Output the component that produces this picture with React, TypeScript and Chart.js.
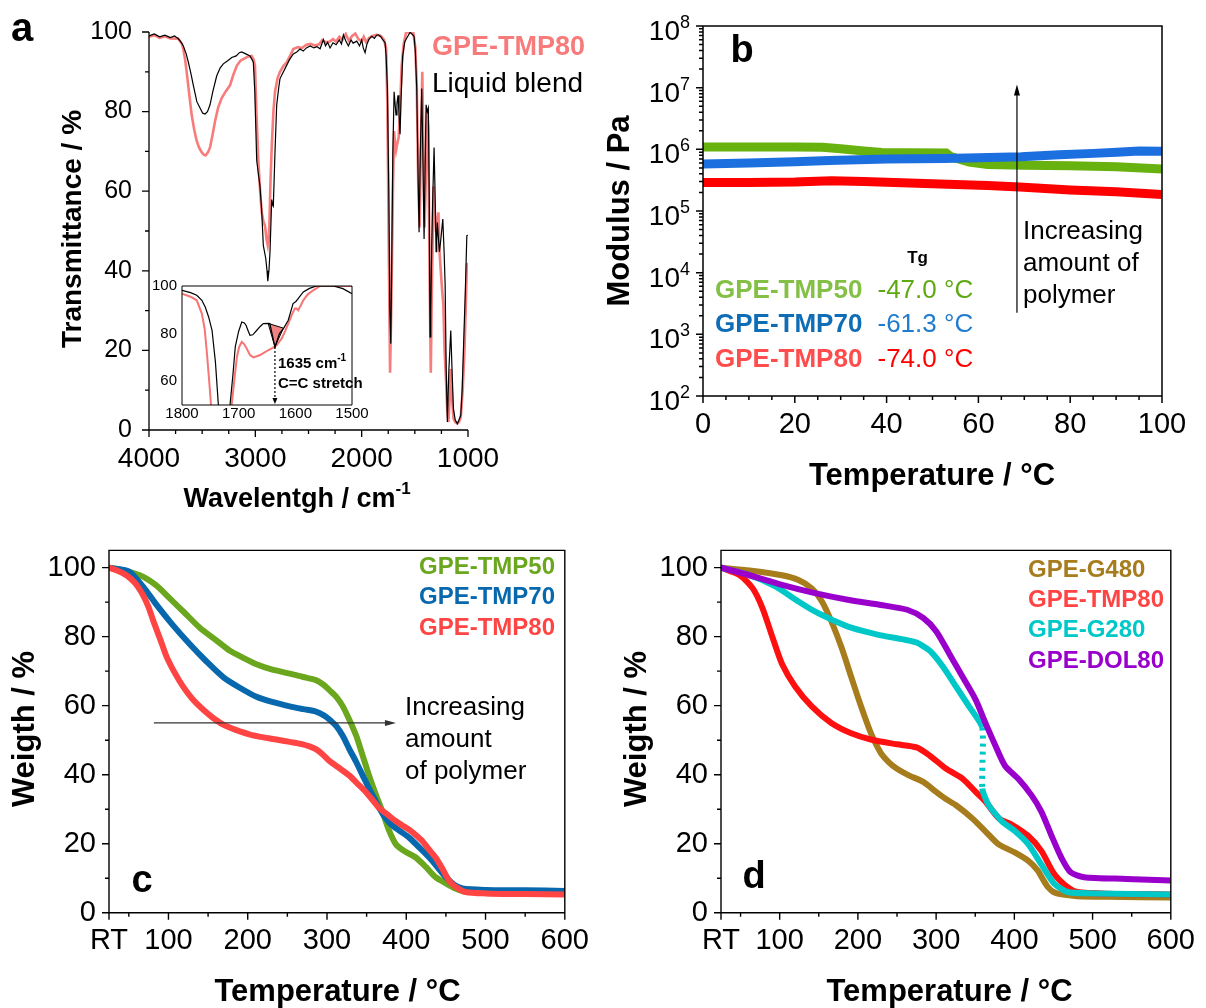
import React, { useEffect, useRef } from "react";
import { Chart, registerables } from "chart.js";

Chart.register(...registerables);

const FONT = "'Liberation Sans', Arial, Helvetica, sans-serif";

// ---------------- Panel a : FTIR ----------------
const FTIR_BLEND_WN = [4000, 3950, 3900, 3850, 3800, 3760, 3724, 3700, 3677, 3650, 3630, 3605, 3583, 3550, 3520, 3495, 3473, 3450, 3426, 3400, 3363, 3330, 3301, 3260, 3222, 3180, 3150, 3128, 3090, 3050, 3030, 3019, 3005, 2987, 2970, 2956, 2940, 2925, 2902, 2890, 2883, 2872, 2862, 2846, 2838, 2831, 2815, 2799, 2780, 2768, 2721, 2680, 2643, 2610, 2580, 2550, 2520, 2485, 2450, 2420, 2391, 2375, 2360, 2340, 2320, 2297, 2270, 2240, 2210, 2190, 2172, 2150, 2125, 2100, 2080, 2046, 2020, 2000, 1985, 1968, 1950, 1930, 1905, 1880, 1860, 1843, 1820, 1800, 1780, 1770, 1758, 1745, 1735, 1726, 1718, 1707, 1695, 1686, 1677, 1668, 1658, 1650, 1639, 1630, 1614, 1595, 1576, 1545, 1520, 1507, 1495, 1482, 1470, 1460, 1448, 1435, 1425, 1413, 1404, 1394, 1383, 1373, 1365, 1357, 1350, 1341, 1330, 1319, 1310, 1300, 1294, 1288, 1278, 1269, 1255, 1237, 1225, 1215, 1205, 1194, 1180, 1162, 1150, 1137, 1120, 1100, 1085, 1068, 1055, 1043, 1025, 1011, 1003];
const FTIR_BLEND_T = [99.0, 99.5, 98.8, 99.2, 98.6, 99.0, 98.3, 97.5, 96.5, 94.5, 92.4, 89.5, 86.6, 82.5, 80.9, 79.6, 79.4, 80.0, 81.7, 85.0, 89.0, 91.0, 92.0, 92.8, 93.6, 94.0, 94.8, 95.0, 94.5, 94.0, 93.0, 92.4, 85, 67.7, 64, 61.2, 55, 46.4, 43.1, 40, 37.4, 40, 44.8, 57.9, 56.5, 56.2, 70, 81.7, 86, 88.3, 90.8, 93.0, 94.5, 95.0, 95.7, 95.2, 96.0, 96.5, 96.0, 96.3, 95.8, 97.0, 98.1, 96.5, 97.4, 96.0, 97.3, 96.8, 98.0, 97.0, 99.3, 97.8, 96.5, 98.0, 97.2, 97.7, 96.5, 98.0, 96.0, 94.8, 97.0, 98.2, 98.9, 98.4, 99.2, 99.3, 98.8, 98.0, 97.3, 94, 85.8, 60, 30, 21.7, 40, 69.4, 85, 82, 79.2, 82, 84.1, 80, 74.3, 83, 94, 97.5, 98.5, 99.9, 99.3, 98.9, 95, 85.8, 65, 49.7, 70, 85.8, 70, 48, 65, 81.7, 80, 80.9, 60, 23.4, 30, 46.4, 60, 71, 60, 44.8, 48, 52.1, 48, 44.8, 48, 53, 45, 36.5, 15, 2, 15, 25, 15, 5.3, 2.5, 1.6, 2.5, 3.7, 10, 20.1, 35, 48.8, 49];

const FTIR_TMP80_WN = [4000, 3950, 3900, 3850, 3800, 3724, 3690, 3677, 3660, 3646, 3620, 3599, 3575, 3552, 3530, 3505, 3485, 3467, 3445, 3426, 3400, 3379, 3350, 3316, 3280, 3238, 3210, 3175, 3140, 3113, 3070, 3034, 3015, 3003, 2990, 2972, 2955, 2940, 2925, 2909, 2895, 2883, 2875, 2868, 2858, 2846, 2830, 2815, 2790, 2768, 2735, 2705, 2670, 2643, 2600, 2560, 2520, 2480, 2440, 2400, 2370, 2340, 2300, 2270, 2240, 2210, 2180, 2150, 2120, 2090, 2060, 2030, 2000, 1980, 1960, 1930, 1900, 1860, 1820, 1790, 1770, 1758, 1745, 1733, 1722, 1714, 1705, 1695, 1686, 1677, 1665, 1652, 1640, 1624, 1605, 1583, 1550, 1514, 1495, 1482, 1468, 1455, 1443, 1430, 1420, 1408, 1395, 1385, 1373, 1362, 1350, 1340, 1325, 1312, 1300, 1290, 1278, 1268, 1256, 1243, 1232, 1220, 1206, 1195, 1184, 1172, 1162, 1150, 1137, 1120, 1100, 1085, 1068, 1050, 1033, 1020, 1011, 1003];
const FTIR_TMP80_T = [98.8, 99.2, 98.5, 98.9, 98.4, 98.3, 97, 95.6, 93, 90, 84, 79.2, 75.5, 72.7, 71, 69.8, 69.2, 69, 69.8, 71, 74.5, 77.6, 81, 83.4, 85, 86.6, 89, 91.5, 92.8, 93.2, 93.8, 94, 93, 91.5, 80, 67.7, 60, 54.7, 52.5, 51.3, 48, 46.4, 48, 51.3, 62, 71, 80, 85, 88.5, 90, 91.5, 92.4, 94.2, 95.7, 96.2, 96.0, 96.8, 97.0, 96.6, 96.9, 98.0, 97.4, 97.6, 98.2, 97.6, 98.8, 98.0, 99.5, 97.8, 99.0, 99.6, 98.2, 97.6, 98.8, 97.5, 98.5, 99.0, 99.3, 99.0, 98.0, 96, 81.7, 45, 14.4, 30, 44.8, 62, 75.1, 72, 70.2, 72, 73.5, 80, 91.5, 97, 99.8, 100, 99.8, 96, 86.6, 62, 50.9, 72, 90, 72, 50.9, 65, 80, 75.9, 40, 14.4, 35, 61.2, 55, 49.7, 52, 54.7, 45, 39.9, 35, 31.6, 20, 11.9, 5, 2, 8, 15.3, 8, 3, 2, 1.6, 2, 3.2, 10, 20.1, 32, 41.4, 42];

const INSET_BLEND_WN = [1800, 1785, 1774, 1765, 1759, 1753, 1747, 1741, 1736, 1733, 1718, 1715, 1710, 1706, 1700, 1694.5, 1690, 1687, 1683, 1680, 1675, 1668, 1662, 1656.5, 1648, 1645, 1636, 1628, 1621, 1612.5, 1604, 1599, 1595, 1586, 1575, 1562.6, 1545, 1533, 1516, 1500];
const INSET_BLEND_T = [98.2, 97.2, 96.1, 94, 91.2, 87, 81.4, 68, 50.7, 40, 40, 50.7, 63, 74.4, 81, 84.9, 84.5, 83.5, 81, 79.3, 79.5, 81.4, 83, 84.2, 84.3, 84.2, 74.4, 80, 82.1, 85.6, 92.6, 93.5, 94.7, 97.5, 99, 100, 100, 100, 98.9, 96.8];
const INSET_TMP80_WN = [1800, 1785, 1774, 1765, 1760, 1756, 1752, 1749, 1746, 1716, 1712, 1707, 1703, 1699, 1694.5, 1690, 1686, 1680, 1674, 1668, 1662, 1655, 1648, 1640, 1633, 1624, 1618, 1612.5, 1606, 1601, 1598, 1595, 1590, 1586, 1578, 1568.6, 1556, 1530, 1500];
const INSET_TMP80_T = [96.8, 95.5, 94, 88.4, 82, 71.7, 60, 50.7, 40, 40, 50.7, 62, 70.3, 74.5, 76.5, 75.5, 73.8, 71, 70, 70.5, 71, 72, 73, 74, 75.1, 78, 81, 84.2, 88, 90.5, 90.5, 89.8, 92, 94, 96.5, 98.2, 100, 100, 100];
const INSET_PEAK_WN = [1648, 1636, 1621, 1648];
const INSET_PEAK_T = [84.3, 74.4, 82.3, 84.3];

const A_X_TICKS = [4000, 3000, 2000, 1000];
const A_X_MINOR = [3750, 3500, 3250, 2750, 2500, 2250, 1750, 1500, 1250];
const A_Y_TICKS = [0, 20, 40, 60, 80, 100];
const A_Y_MINOR = [10, 30, 50, 70, 90];
const INSET_X_TICKS = [1800, 1700, 1600, 1500];
const INSET_Y_TICKS = [60, 80, 100];

// ---------------- Panel b : modulus ----------------
const DMA_TMP50_X = [0, 10, 20, 26, 30, 35, 39, 45, 53, 54, 58, 62, 70, 80, 90, 100];
const DMA_TMP50_Y = [1.09e6, 1.09e6, 1.09e6, 1.08e6, 1.02e6, 9.4e5, 8.9e5, 8.8e5, 8.7e5, 7.6e5, 6.2e5, 5.7e5, 5.5e5, 5.4e5, 5.2e5, 4.8e5];
const DMA_TMP70_X = [0, 10, 20, 27.5, 40, 52.6, 60, 69.3, 77.6, 85, 90.2, 95, 100];
const DMA_TMP70_Y = [5.8e5, 6.0e5, 6.3e5, 6.6e5, 7.0e5, 7.1e5, 7.3e5, 7.6e5, 8.2e5, 8.6e5, 9.0e5, 9.4e5, 9.3e5];
const DMA_TMP80_X = [0, 10, 20, 28, 35, 45, 55, 62, 69, 80, 90, 100];
const DMA_TMP80_Y = [2.9e5, 2.9e5, 2.95e5, 3.1e5, 3.0e5, 2.85e5, 2.7e5, 2.6e5, 2.45e5, 2.2e5, 2.05e5, 1.85e5];
const DMA_X_TICKS = [0, 20, 40, 60, 80, 100];
const DMA_X_MINOR = [5, 10, 15, 25, 30, 35, 45, 50, 55, 65, 70, 75, 85, 90, 95];
const DMA_Y_EXP = [2, 3, 4, 5, 6, 7, 8];
const DMA_LEGEND = ["GPE-TMP50", "GPE-TMP70", "GPE-TMP80"];
const DMA_TG = ["-47.0 °C", "-61.3 °C", "-74.0 °C"];

// ---------------- Panel c : TGA ----------------
const TGA_C_TMP50_X = [25, 40, 64, 85, 102, 120, 139.5, 160, 177, 195, 211, 230, 253, 270, 286, 296, 303, 312, 320, 328, 337, 345, 353, 362, 370, 378, 387, 398, 412, 425, 437, 450, 462, 475, 500, 550, 600];
const TGA_C_TMP50_Y = [100, 99.3, 97.8, 94.8, 91, 87, 82.6, 79, 76, 73.8, 72, 70.5, 69.3, 68.3, 67.4, 66, 64.5, 62.5, 59.8, 56, 51.2, 45.5, 39.8, 34, 29.3, 24, 19.8, 17.8, 16, 13.2, 10.3, 8.5, 7, 6, 6.2, 6.3, 6.3];
const TGA_C_TMP70_X = [25, 40, 51, 68, 85, 105, 127, 148, 169, 190, 211, 232, 253, 270, 286, 296, 303, 312, 320, 328, 337, 345, 353, 360, 366, 372, 379, 390, 404, 416, 429, 440, 450, 460, 471, 500, 550, 600];
const TGA_C_TMP70_Y = [100, 99.5, 98.8, 94.5, 89.2, 83.5, 77.8, 72.8, 68.3, 65.2, 62.6, 61, 59.8, 59, 58.3, 57.2, 56, 54, 51.2, 47.5, 43.6, 39.8, 36, 33, 30.3, 28, 26, 24, 21.7, 19, 16, 13, 10.3, 8.2, 7, 6.6, 6.5, 6.3];
const TGA_C_TMP80_X = [25, 35, 47, 58, 68, 75, 81, 90, 98, 108, 118.5, 130, 144, 156, 169, 185, 202, 220, 236, 253, 269.5, 278, 286, 295, 303, 315, 328, 338, 349, 358, 366, 376, 387, 395, 404, 412, 420.5, 428, 437, 445, 454, 462, 475, 500, 550, 600];
const TGA_C_TMP80_Y = [100, 99.2, 97.8, 95.5, 92, 88.5, 84.5, 79, 74, 69.5, 65.5, 62, 58.8, 56.5, 54.5, 53, 51.7, 50.8, 50.2, 49.5, 48.8, 48.2, 47.4, 45.8, 44, 42, 39.8, 37.5, 35, 32.5, 30.3, 28.5, 26.5, 25.3, 24, 22.5, 20.7, 18.5, 16, 13, 9.3, 7.5, 6, 5.6, 5.4, 5.3];
const TGA_C_LEGEND = ["GPE-TMP50", "GPE-TMP70", "GPE-TMP80"];

// ---------------- Panel d : TGA ----------------
const TGA_D_G480_X = [25, 61.5, 103, 124, 141, 154, 166, 179, 191.5, 204, 216.5, 229, 240, 250, 265, 283.6, 300, 312, 325, 346, 363, 380, 401, 418, 430, 437, 443, 450, 460, 480, 520, 600];
const TGA_D_G480_Y = [100, 99.2, 97.8, 96.4, 94, 90.2, 84.5, 76.9, 68.3, 59.8, 52.1, 46.4, 43.5, 41.7, 39.8, 37.9, 35, 33, 31.2, 27.4, 23.6, 19.8, 17.4, 15, 12.2, 9.5, 7.4, 6, 5.3, 4.8, 4.6, 4.4];
const TGA_D_TMP80_X = [25, 49, 65.6, 78, 91, 103, 120, 141, 166, 191.5, 216.5, 250, 275, 292, 313, 334, 350.6, 363, 380, 397, 418, 434.5, 451, 468, 480.6, 520, 600];
const TGA_D_TMP80_Y = [100, 97.8, 94, 88.3, 79.7, 72.1, 65.5, 59.8, 55, 52, 50.2, 48.8, 47.9, 45.5, 41.7, 38.8, 35, 32.2, 27.4, 25.5, 22.2, 17.9, 11.2, 7.4, 6, 5.5, 5.3];
const TGA_D_G280_X = [25, 61.5, 95, 124, 145, 166, 191.5, 225, 258, 275, 292, 309, 325.5, 342, 359, 359, 367, 384, 401, 418, 434.5, 451, 468, 500, 600];
const TGA_D_G280_Y = [100, 97.8, 94.5, 90.2, 87.3, 85, 82.6, 80.6, 79.2, 78.3, 75.9, 71.2, 65.5, 59.8, 53.6, 36, 31.2, 26.5, 23.6, 19.8, 14, 8.4, 6, 5.6, 5.3];
const TGA_D_DOL80_X = [25, 61.5, 103, 145, 187, 229, 263, 283.6, 300, 317, 334, 350.6, 363, 376, 388, 405, 422, 434.5, 447, 460, 472, 489, 543, 600];
const TGA_D_DOL80_Y = [100, 97.8, 95, 92.6, 90.7, 89.2, 87.8, 85.4, 81.6, 75, 68.3, 61.7, 55, 48.3, 42.6, 38.8, 34, 29.3, 22.6, 16, 11.7, 10.3, 9.8, 9.3];
const TGA_D_LEGEND = ["GPE-G480", "GPE-TMP80", "GPE-G280", "GPE-DOL80"];

const TGA_X_TICKS = [25, 100, 200, 300, 400, 500, 600];
const TGA_X_MINOR = [50, 150, 250, 350, 450, 550];
const TGA_Y_TICKS = [0, 20, 40, 60, 80, 100];
const TGA_Y_MINOR = [10, 30, 50, 70, 90];

// ---------------- helpers ----------------
const xy = (xs: number[], ys: number[]) => xs.map((x, i) => ({ x, y: ys[i] }));

function txt(ctx: CanvasRenderingContext2D, s: string, x: number, y: number, size: number, o: any = {}) {
  ctx.save();
  ctx.font = `${o.bold ? "bold " : ""}${size}px ${FONT}`;
  ctx.fillStyle = o.color || "#000";
  ctx.textAlign = o.align || "left";
  ctx.textBaseline = o.base || "middle";
  ctx.fillText(s, x, y);
  ctx.restore();
}
function rtxt(ctx: CanvasRenderingContext2D, s: string, x: number, y: number, size: number) {
  ctx.save();
  ctx.translate(x, y);
  ctx.rotate(-Math.PI / 2);
  txt(ctx, s, 0, 0, size, { bold: true, align: "center" });
  ctx.restore();
}
function arrow(ctx: CanvasRenderingContext2D, x1: number, y1: number, x2: number, y2: number, head: number, hw: number, color: string, dash?: number[]) {
  const ang = Math.atan2(y2 - y1, x2 - x1);
  ctx.save();
  ctx.strokeStyle = color;
  ctx.fillStyle = color;
  ctx.lineWidth = 1.2;
  if (dash) ctx.setLineDash(dash);
  ctx.beginPath();
  ctx.moveTo(x1, y1);
  ctx.lineTo(x2 - Math.cos(ang) * head * 0.8, y2 - Math.sin(ang) * head * 0.8);
  ctx.stroke();
  ctx.setLineDash([]);
  ctx.translate(x2, y2);
  ctx.rotate(ang);
  ctx.beginPath();
  ctx.moveTo(0, 0);
  ctx.lineTo(-head, -hw);
  ctx.lineTo(-head, hw);
  ctx.closePath();
  ctx.fill();
  ctx.restore();
}

type Deco = {
  box?: boolean; xMajor: number[]; xMinor: number[]; yMajor: number[]; yMinor: number[];
  majorLen: number; minorLen: number; lw: number; whiteBg?: boolean; draw?: (c: any) => void;
};
function decoPlugin(cfg: Deco) {
  return {
    id: "deco",
    beforeDatasetsDraw(chart: any) {
      if (!cfg.whiteBg) return;
      const { ctx, chartArea: a } = chart;
      ctx.save();
      ctx.fillStyle = "#fff";
      ctx.fillRect(a.left, a.top, a.right - a.left, a.bottom - a.top);
      ctx.restore();
    },
    afterDatasetsDraw(chart: any) {
      const { ctx, chartArea: a, scales } = chart;
      const sx = scales.x, sy = scales.y;
      ctx.save();
      ctx.strokeStyle = "#000";
      ctx.lineWidth = cfg.lw;
      ctx.beginPath();
      ctx.moveTo(a.left, a.top);
      ctx.lineTo(a.left, a.bottom);
      ctx.lineTo(a.right, a.bottom);
      if (cfg.box) { ctx.lineTo(a.right, a.top); ctx.closePath(); }
      const tx = (v: number, len: number) => { const p = sx.getPixelForValue(v); ctx.moveTo(p, a.bottom); ctx.lineTo(p, a.bottom + len); };
      const ty = (v: number, len: number) => { const p = sy.getPixelForValue(v); ctx.moveTo(a.left, p); ctx.lineTo(a.left - len, p); };
      if (cfg.majorLen > 0) {
        cfg.xMajor.forEach((v) => tx(v, cfg.majorLen));
        cfg.yMajor.forEach((v) => ty(v, cfg.majorLen));
        cfg.xMinor.forEach((v) => tx(v, cfg.minorLen));
        cfg.yMinor.forEach((v) => ty(v, cfg.minorLen));
      }
      ctx.stroke();
      ctx.restore();
      if (cfg.draw) cfg.draw(chart);
    },
  };
}

function linScale(o: any) {
  return {
    type: o.type || "linear",
    min: o.min,
    max: o.max,
    reverse: !!o.reverse,
    grid: { display: false, drawTicks: false, tickLength: 0 },
    border: { display: false },
    afterBuildTicks: (s: any) => { s.ticks = o.ticks.map((v: number) => ({ value: v })); },
    afterFit: (s: any) => { if (o.width !== undefined) s.width = o.width; if (o.height !== undefined) s.height = o.height; },
    ticks: {
      display: o.display !== false,
      autoSkip: false,
      maxRotation: 0,
      minRotation: 0,
      padding: o.padding,
      color: "#000",
      font: { family: FONT, size: o.size },
      callback: (v: number) => (o.label ? o.label(v) : String(v)),
    },
  };
}

function baseOptions(padding: any, scales: any) {
  return {
    animation: false,
    responsive: false,
    maintainAspectRatio: false,
    events: [],
    layout: { padding, autoPadding: false },
    plugins: { legend: { display: false }, tooltip: { enabled: false } },
    elements: { point: { radius: 0 } },
    scales,
  };
}

const line = (data: any, color: string, width: number, extra: any = {}) => ({
  data, borderColor: color, backgroundColor: color, borderWidth: width, pointRadius: 0, fill: false, tension: 0, ...extra,
});

// ---------------- chart factories ----------------
function makeA() {
  return {
    type: "line",
    data: {
      datasets: [
        line(xy(FTIR_BLEND_WN, FTIR_BLEND_T), "#000", 1.2),
        line(xy(FTIR_TMP80_WN, FTIR_TMP80_T), "rgba(246,110,110,0.9)", 2.6),
      ],
    },
    options: baseOptions({ left: 0, top: 24, right: 132, bottom: 0 }, {
      x: linScale({ min: 1000, max: 4000, reverse: true, ticks: A_X_TICKS, size: 28, padding: 12, height: 90 }),
      y: linScale({ min: 0, max: 100, ticks: A_Y_TICKS, size: 25, padding: 17, width: 149 }),
    }),
    plugins: [decoPlugin({
      xMajor: A_X_TICKS, xMinor: A_X_MINOR, yMajor: A_Y_TICKS, yMinor: A_Y_MINOR, majorLen: 7, minorLen: 4, lw: 1.3,
      draw: (c: any) => {
        const ctx = c.ctx as CanvasRenderingContext2D;
        rtxt(ctx, "Transmittance / %", 73, 229, 28);
        ctx.save();
        ctx.font = `bold 27px ${FONT}`;
        const w1 = ctx.measureText("Wavelentgh / cm").width;
        ctx.font = `bold 17px ${FONT}`;
        const w2 = ctx.measureText("-1").width;
        ctx.restore();
        const x0 = 297 - (w1 + w2) / 2;
        txt(ctx, "Wavelentgh / cm", x0, 507, 27, { bold: true, base: "alphabetic" });
        txt(ctx, "-1", x0 + w1, 494, 17, { bold: true, base: "alphabetic" });
        txt(ctx, "a", 22, 30, 40, { bold: true, align: "center" });
        txt(ctx, "GPE-TMP80", 432, 48, 27, { bold: true, color: "#f77b7b" });
        txt(ctx, "Liquid blend", 432, 84, 28);
      },
    })],
  };
}

function makeInset() {
  return {
    type: "line",
    data: {
      datasets: [
        line(xy(INSET_BLEND_WN, INSET_BLEND_T), "#000", 1.2),
        line(xy(INSET_PEAK_WN, INSET_PEAK_T), "#000", 1, { fill: "shape", backgroundColor: "#f08282" }),
        line(xy(INSET_TMP80_WN, INSET_TMP80_T), "rgba(246,110,110,0.95)", 2),
      ],
    },
    options: baseOptions({ left: 0, top: 16, right: 28, bottom: 0 }, {
      x: linScale({ min: 1500, max: 1800, reverse: true, ticks: INSET_X_TICKS, size: 15, padding: 0, height: 25 }),
      y: linScale({ min: 50, max: 100, ticks: INSET_Y_TICKS, size: 15, padding: 5, width: 42 }),
    }),
    plugins: [decoPlugin({
      box: true, whiteBg: true, xMajor: [], xMinor: [], yMajor: [], yMinor: [], majorLen: 0, minorLen: 0, lw: 1,
      draw: (c: any) => {
        const ctx = c.ctx as CanvasRenderingContext2D;
        const sx = c.scales.x, sy = c.scales.y;
        const px = sx.getPixelForValue(1636);
        arrow(ctx, px, sy.getPixelForValue(74.4), px, sy.getPixelForValue(50) - 1, 6, 2.5, "#000", [2, 2]);
        ctx.save();
        ctx.font = `bold 15px ${FONT}`;
        const w = ctx.measureText("1635 cm").width;
        ctx.restore();
        txt(ctx, "1635 cm", 138, 98, 15, { bold: true, base: "alphabetic" });
        txt(ctx, "-1", 138 + w, 91, 10, { bold: true, base: "alphabetic" });
        txt(ctx, "C=C stretch", 138, 118, 15, { bold: true, base: "alphabetic" });
      },
    })],
  };
}

const DMA_LINE_COLORS = ["#67b20f", "#1c6fdf", "#ff0000"];
const DMA_NAME_COLORS = ["#84bf46", "#0f6db6", "#ff4c4c"];
const DMA_TG_COLORS = ["#5ea812", "#1f7bd0", "#ff0000"];

function makeB() {
  const minorY: number[] = [];
  for (let k = 2; k < 8; k++) for (let m = 2; m < 10; m++) minorY.push(m * Math.pow(10, k));
  return {
    type: "line",
    data: {
      datasets: [
        line(xy(DMA_TMP80_X, DMA_TMP80_Y), DMA_LINE_COLORS[2], 9),
        line(xy(DMA_TMP70_X, DMA_TMP70_Y), DMA_LINE_COLORS[1], 9),
        line(xy(DMA_TMP50_X, DMA_TMP50_Y), DMA_LINE_COLORS[0], 9),
      ],
    },
    options: baseOptions({ left: 0, top: 26, right: 44, bottom: 0 }, {
      x: linScale({ min: 0, max: 100, ticks: DMA_X_TICKS, size: 29, padding: 12, height: 124 }),
      y: linScale({ type: "logarithmic", min: 100, max: 1e8, ticks: DMA_Y_EXP.map((k) => Math.pow(10, k)), size: 28, padding: 10, width: 103, display: false }),
    }),
    plugins: [decoPlugin({
      box: true, xMajor: DMA_X_TICKS, xMinor: DMA_X_MINOR, yMajor: DMA_Y_EXP.map((k) => Math.pow(10, k)), yMinor: minorY,
      majorLen: 7, minorLen: 4, lw: 1.5,
      draw: (c: any) => {
        const ctx = c.ctx as CanvasRenderingContext2D;
        const a = c.chartArea, sx = c.scales.x, sy = c.scales.y;
        for (const k of DMA_Y_EXP) {
          const y = sy.getPixelForValue(Math.pow(10, k));
          ctx.save();
          ctx.font = `18px ${FONT}`;
          const ws = ctx.measureText(String(k)).width;
          ctx.restore();
          const R = a.left - 13;
          txt(ctx, String(k), R - ws, y + 2, 18, { base: "alphabetic" });
          txt(ctx, "10", R - ws, y + 14, 28, { align: "right", base: "alphabetic" });
        }
        rtxt(ctx, "Modulus / Pa", 20, 211, 31);
        txt(ctx, "Temperature / °C", 332, 476, 31, { bold: true, align: "center" });
        txt(ctx, "b", 142, 52, 38, { bold: true, align: "center" });
        const ax = sx.getPixelForValue(68.4);
        arrow(ctx, ax, sy.getPixelForValue(Math.pow(10, 3.35)), ax, sy.getPixelForValue(Math.pow(10, 7.05)), 11, 3, "#000");
        txt(ctx, "Increasing", 423, 232, 26);
        txt(ctx, "amount of", 423, 264, 26);
        txt(ctx, "polymer", 423, 296, 26);
        txt(ctx, "Tg", 317.6, 258, 17, { bold: true, align: "center" });
        const rows = [290.5, 325, 359.5];
        rows.forEach((y, i) => {
          txt(ctx, DMA_LEGEND[i], 115, y, 26, { bold: true, color: DMA_NAME_COLORS[i] });
          txt(ctx, DMA_TG[i], 277.5, y, 26, { color: DMA_TG_COLORS[i] });
        });
      },
    })],
  };
}

const TGA_C_COLORS = ["#6aa61e", "#0868ad", "#ff4444"];

function tgaScales(yWidth: number) {
  return {
    x: linScale({ min: 25, max: 600, ticks: TGA_X_TICKS, size: 29, padding: 11, height: 95.3, label: (v: number) => (v === 25 ? "RT" : String(v)) }),
    y: linScale({ min: 0, max: 105, ticks: TGA_Y_TICKS, size: 29, padding: 13, width: yWidth }),
  };
}

function makeC() {
  return {
    type: "line",
    data: {
      datasets: [
        line(xy(TGA_C_TMP80_X, TGA_C_TMP80_Y), TGA_C_COLORS[2], 6, { tension: 0.25 }),
        line(xy(TGA_C_TMP70_X, TGA_C_TMP70_Y), TGA_C_COLORS[1], 6, { tension: 0.25 }),
        line(xy(TGA_C_TMP50_X, TGA_C_TMP50_Y), TGA_C_COLORS[0], 6, { tension: 0.25 }),
      ],
    },
    options: baseOptions({ left: 0, top: 25, right: 34, bottom: 0 }, tgaScales(109)),
    plugins: [decoPlugin({
      box: true, xMajor: TGA_X_TICKS, xMinor: TGA_X_MINOR, yMajor: TGA_Y_TICKS, yMinor: TGA_Y_MINOR, majorLen: 7, minorLen: 4, lw: 1.4,
      draw: (c: any) => {
        const ctx = c.ctx as CanvasRenderingContext2D;
        const sx = c.scales.x, sy = c.scales.y;
        rtxt(ctx, "Weigth / %", 25, 209, 31);
        txt(ctx, "Temperature / °C", 337.5, 472, 31, { bold: true, align: "center" });
        txt(ctx, "c", 142, 362, 38, { bold: true, align: "center" });
        [47, 77, 108].forEach((y, i) => txt(ctx, TGA_C_LEGEND[i], 555, y, 24, { bold: true, align: "right", color: TGA_C_COLORS[i] }));
        const ay = sy.getPixelForValue(55);
        arrow(ctx, sx.getPixelForValue(81.6), ay, sx.getPixelForValue(387), ay, 11, 3, "#333");
        txt(ctx, "Increasing", 405, 188, 26);
        txt(ctx, "amount", 405, 220, 26);
        txt(ctx, "of polymer", 405, 252, 26);
      },
    })],
  };
}

const TGA_D_COLORS = ["#a67c1c", "#ff1010", "#00c8c8", "#9900cc"];
const TGA_D_TEXT = ["#a67c1c", "#ff4444", "#00c8c8", "#9900cc"];

function makeD() {
  return {
    type: "line",
    data: {
      datasets: [
        line(xy(TGA_D_DOL80_X, TGA_D_DOL80_Y), TGA_D_COLORS[3], 6, { tension: 0.25 }),
        line(xy(TGA_D_G280_X, TGA_D_G280_Y), TGA_D_COLORS[2], 6, {
          tension: 0.2,
          segment: { borderDash: (ctx: any) => (ctx.p0.parsed.x === ctx.p1.parsed.x ? [3, 5] : undefined) },
        }),
        line(xy(TGA_D_TMP80_X, TGA_D_TMP80_Y), TGA_D_COLORS[1], 6, { tension: 0.25 }),
        line(xy(TGA_D_G480_X, TGA_D_G480_Y), TGA_D_COLORS[0], 6, { tension: 0.25 }),
      ],
    },
    options: baseOptions({ left: 0, top: 25, right: 28, bottom: 0 }, tgaScales(121)),
    plugins: [decoPlugin({
      box: true, xMajor: TGA_X_TICKS, xMinor: TGA_X_MINOR, yMajor: TGA_Y_TICKS, yMinor: TGA_Y_MINOR, majorLen: 7, minorLen: 4, lw: 1.4,
      draw: (c: any) => {
        const ctx = c.ctx as CanvasRenderingContext2D;
        rtxt(ctx, "Weigth / %", 37, 209, 31);
        txt(ctx, "Temperature / °C", 349.5, 472, 31, { bold: true, align: "center" });
        txt(ctx, "d", 154, 358, 38, { bold: true, align: "center" });
        [50, 80, 110, 141.5].forEach((y, i) => txt(ctx, TGA_D_LEGEND[i], 428, y, 24, { bold: true, color: TGA_D_TEXT[i] }));
      },
    })],
  };
}

function ChartBox({ left, top, width, height, make }: any) {
  const ref = useRef<HTMLCanvasElement>(null);
  useEffect(() => {
    const chart = new Chart(ref.current as HTMLCanvasElement, make());
    return () => chart.destroy();
  }, []);
  return (
    <canvas
      ref={ref}
      width={width}
      height={height}
      style={{ position: "absolute", left, top, width, height }}
    />
  );
}

export default function App() {
  return (
    <div style={{ position: "absolute", left: 0, top: 0, width: 1206, height: 1008, background: "#fff", overflow: "hidden" }}>
      <ChartBox left={0} top={0} width={600} height={520} make={makeA} />
      <ChartBox left={140} top={270} width={240} height={160} make={makeInset} />
      <ChartBox left={600} top={0} width={606} height={520} make={makeB} />
      <ChartBox left={0} top={520} width={600} height={488} make={makeC} />
      <ChartBox left={600} top={520} width={606} height={488} make={makeD} />
    </div>
  );
}
